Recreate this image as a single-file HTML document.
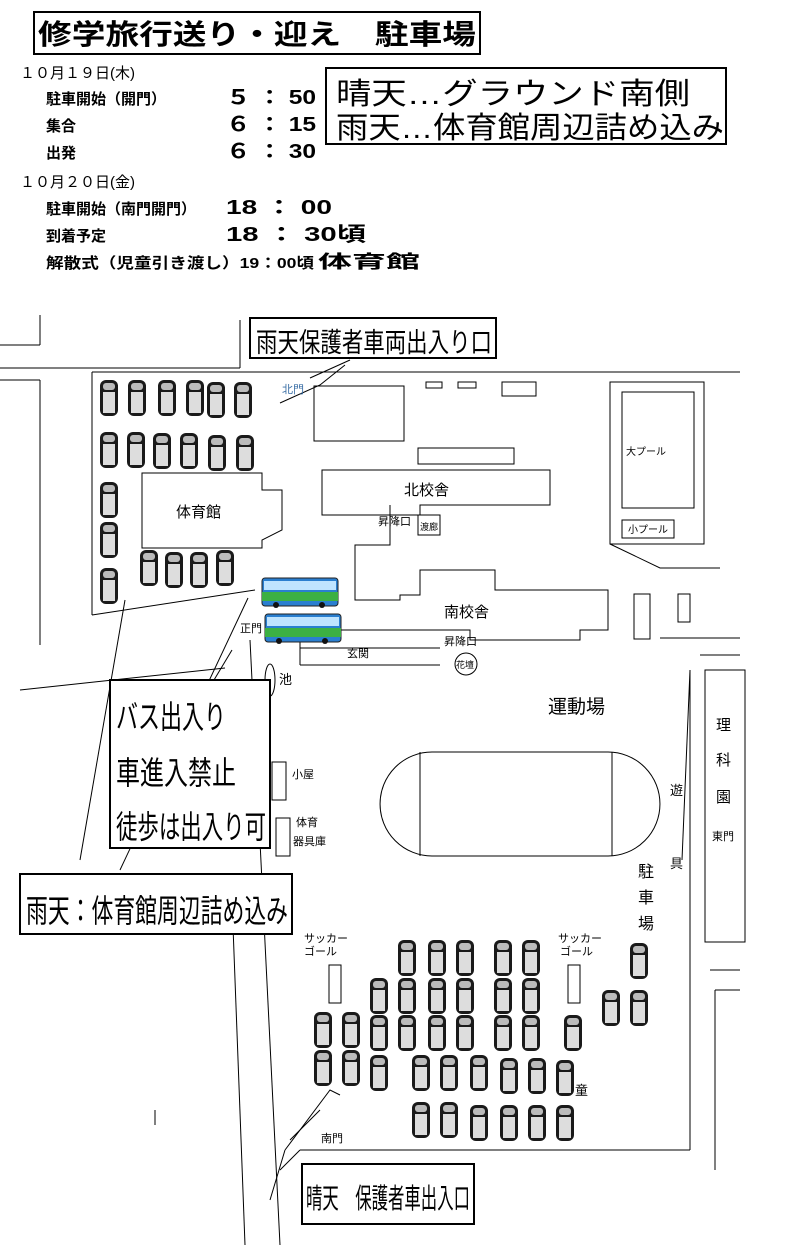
<!DOCTYPE html>
<html><head><meta charset="utf-8"><style>
body{margin:0;background:#fff}
svg{display:block}
text{font-family:"Liberation Sans","Noto Sans CJK JP",sans-serif}
</style></head><body>
<svg width="792" height="1250" viewBox="0 0 792 1250" xmlns="http://www.w3.org/2000/svg">
<defs>
<g id="car"><rect x="0" y="0" width="18" height="36" rx="6" fill="#1a1a1a"/><rect x="3" y="12" width="12" height="21" fill="#ddd"/><rect x="3" y="3" width="12" height="7" rx="3" fill="#bbb"/></g>
<g id="bus"><rect x="0" y="0" width="76" height="28" rx="3" fill="#2a7fd0" stroke="#222"/><rect x="2" y="3" width="72" height="9" fill="#bfe4ff"/><rect x="0" y="14" width="76" height="9" fill="#3cb043"/><circle cx="14" cy="27" r="3" fill="#111"/><circle cx="60" cy="27" r="3" fill="#111"/></g>
</defs>
<g fill="none" stroke="#000" stroke-width="2">
<rect x="34" y="12" width="446" height="42"/>
<rect x="326" y="68" width="400" height="76"/>
</g>
<text x="38" y="44" font-size="28" font-weight="bold" textLength="438" lengthAdjust="spacingAndGlyphs">修学旅行送り・迎え　駐車場</text>
<text x="336" y="104" font-size="30" textLength="354" lengthAdjust="spacingAndGlyphs">晴天…グラウンド南側</text>
<text x="336" y="138" font-size="30" textLength="388" lengthAdjust="spacingAndGlyphs">雨天…体育館周辺詰め込み</text>
<g font-size="15" font-weight="bold">
<text x="20" y="78" font-weight="normal">１０月１９日(木)</text>
<text x="46" y="104">駐車開始（開門）</text><text x="226" y="104" font-size="20" textLength="90" lengthAdjust="spacingAndGlyphs">５ ： 50</text>
<text x="46" y="131">集合</text><text x="226" y="131" font-size="20" textLength="90" lengthAdjust="spacingAndGlyphs">６ ： 15</text>
<text x="46" y="158">出発</text><text x="226" y="158" font-size="20" textLength="90" lengthAdjust="spacingAndGlyphs">６ ： 30</text>
<text x="20" y="187" font-weight="normal">１０月２０日(金)</text>
<text x="46" y="214">駐車開始（南門開門）</text><text x="226" y="214" font-size="20" textLength="106" lengthAdjust="spacingAndGlyphs">18 ： 00</text>
<text x="46" y="241">到着予定</text><text x="226" y="241" font-size="20" textLength="140" lengthAdjust="spacingAndGlyphs">18 ： 30頃</text>
<text x="46" y="268" textLength="268" lengthAdjust="spacingAndGlyphs">解散式（児童引き渡し）19：00頃</text><text x="318" y="268" font-size="18" textLength="102" lengthAdjust="spacingAndGlyphs">体育館</text>
</g>
<g fill="none" stroke="#000" stroke-width="1">
<line x1="40" y1="315" x2="40" y2="345"/><line x1="0" y1="345" x2="40" y2="345"/>
<line x1="0" y1="368" x2="240" y2="368"/><line x1="40" y1="380" x2="40" y2="645"/><line x1="0" y1="380" x2="40" y2="380"/>
<line x1="240" y1="368" x2="240" y2="320"/>
<line x1="92" y1="372" x2="740" y2="372"/>
<line x1="92" y1="372" x2="92" y2="615"/>
<line x1="92" y1="615" x2="255" y2="590"/>
<line x1="700" y1="655" x2="740" y2="655"/>
<line x1="690" y1="670" x2="690" y2="1150"/>
<line x1="300" y1="1150" x2="690" y2="1150"/>
<line x1="300" y1="1150" x2="280" y2="1170"/>
<line x1="715" y1="990" x2="715" y2="1170"/><line x1="715" y1="990" x2="740" y2="990"/>
<rect x="705" y="670" width="40" height="272"/>
<line x1="710" y1="970" x2="740" y2="970"/>
<rect x="314" y="386" width="90" height="55"/>
<rect x="426" y="382" width="16" height="6"/><rect x="458" y="382" width="18" height="6"/><rect x="502" y="382" width="34" height="14"/>
<rect x="418" y="448" width="96" height="16"/>
<rect x="610" y="382" width="94" height="162"/><rect x="622" y="392" width="72" height="116"/><rect x="622" y="520" width="52" height="18"/>
<polyline points="610,544 660,568 720,568"/>
<polygon points="142,473 262,473 262,490 282,490 282,530 262,540 262,548 142,548"/>
<polygon points="322,470 550,470 550,505 420,505 420,515 322,515"/>
<polyline points="390,505 390,545 355,545 355,600 400,600 400,595 420,595 420,570 495,570 495,590 608,590 608,630 580,630 580,640 470,640 470,630 340,630"/>
<rect x="418" y="515" width="22" height="20"/>
<rect x="634" y="594" width="16" height="45"/><rect x="678" y="594" width="12" height="28"/>
<line x1="660" y1="638" x2="740" y2="638"/>
<line x1="300" y1="648" x2="440" y2="648"/><line x1="300" y1="640" x2="300" y2="665"/><line x1="300" y1="665" x2="440" y2="665"/>
<circle cx="466" cy="664" r="11"/>
<ellipse cx="270" cy="680" rx="5" ry="16"/>
<rect x="272" y="762" width="14" height="38"/><rect x="276" y="818" width="14" height="38"/>
<path d="M432 752 H608 A52 52 0 0 1 608 856 H432 A52 52 0 0 1 432 752 Z"/>
<line x1="420" y1="752" x2="420" y2="856"/><line x1="612" y1="752" x2="612" y2="856"/>
<rect x="329" y="965" width="12" height="38"/><rect x="568" y="965" width="12" height="38"/>
<line x1="690" y1="670" x2="682" y2="860"/>
<line x1="20" y1="690" x2="225" y2="668"/>
<line x1="80" y1="860" x2="125" y2="600"/>
<line x1="120" y1="870" x2="248" y2="598"/>
<line x1="232" y1="900" x2="245" y2="1245"/><line x1="250" y1="640" x2="280" y2="1245"/>
<line x1="155" y1="1110" x2="155" y2="1125"/>
<line x1="270" y1="1200" x2="285" y2="1150"/>
<polyline points="285,1150 330,1090 340,1095"/><polyline points="290,1140 320,1110"/>
<polyline points="280,403 320,385 345,365"/><polyline points="310,378 350,360"/>
<line x1="208" y1="690" x2="232" y2="650"/>
</g>
<g stroke="#000" stroke-width="2" fill="#fff">
<rect x="250" y="318" width="246" height="40"/>
<rect x="110" y="680" width="160" height="168"/>
<rect x="20" y="874" width="272" height="60"/>
<rect x="302" y="1164" width="172" height="60"/>
</g>
<text x="256" y="352" font-size="27" textLength="236" lengthAdjust="spacingAndGlyphs">雨天保護者車両出入り口</text>
<g font-size="32"><text x="116" y="728" textLength="110" lengthAdjust="spacingAndGlyphs">バス出入り</text><text x="116" y="784" textLength="120" lengthAdjust="spacingAndGlyphs">車進入禁止</text><text x="116" y="838" textLength="150" lengthAdjust="spacingAndGlyphs">徒歩は出入り可</text></g>
<text x="26" y="922" font-size="32" textLength="262" lengthAdjust="spacingAndGlyphs">雨天：体育館周辺詰め込み</text>
<text x="306" y="1208" font-size="28" textLength="164" lengthAdjust="spacingAndGlyphs">晴天　保護者車出入口</text>
<g font-size="11">
<text x="282" y="393" fill="#3a6ea5">北門</text>
<text x="240" y="632">正門</text>
<text x="347" y="657">玄関</text>
<text x="378" y="525">昇降口</text><text x="420" y="530" font-size="9">渡廊</text>
<text x="444" y="645">昇降口</text><text x="456" y="668" font-size="9">花壇</text>
<text x="626" y="455" font-size="10">大プール</text><text x="628" y="533" font-size="10">小プール</text>
<text x="292" y="778">小屋</text><text x="296" y="826">体育</text><text x="293" y="845">器具庫</text>
<text x="304" y="942">サッカー</text><text x="304" y="955">ゴール</text>
<text x="558" y="942">サッカー</text><text x="560" y="955">ゴール</text>
<text x="321" y="1142">南門</text>
<text x="712" y="840">東門</text>
</g>
<text x="176" y="517" font-size="15">体育館</text>
<text x="404" y="495" font-size="15">北校舎</text>
<text x="444" y="617" font-size="15">南校舎</text>
<text x="279" y="684" font-size="13">池</text>
<text x="548" y="713" font-size="19">運動場</text>
<g font-size="15"><text x="716" y="730">理</text><text x="716" y="765">科</text><text x="716" y="802">園</text></g>
<g font-size="13"><text x="670" y="795">遊</text><text x="670" y="868">具</text></g>
<g font-size="16"><text x="638" y="877">駐</text><text x="638" y="903">車</text><text x="638" y="929">場</text></g>
<text x="575" y="1095" font-size="13">童</text>
<use href="#bus" x="262" y="578"/><use href="#bus" x="265" y="614"/>
<g>
<use href="#car" x="100" y="380"/><use href="#car" x="128" y="380"/><use href="#car" x="158" y="380"/><use href="#car" x="186" y="380"/><use href="#car" x="207" y="382"/><use href="#car" x="234" y="382"/>
<use href="#car" x="100" y="432"/><use href="#car" x="127" y="432"/><use href="#car" x="153" y="433"/><use href="#car" x="180" y="433"/><use href="#car" x="208" y="435"/><use href="#car" x="236" y="435"/>
<use href="#car" x="100" y="482"/><use href="#car" x="100" y="522"/><use href="#car" x="100" y="568"/>
<use href="#car" x="140" y="550"/><use href="#car" x="165" y="552"/><use href="#car" x="190" y="552"/><use href="#car" x="216" y="550"/>
<use href="#car" x="398" y="940"/><use href="#car" x="428" y="940"/><use href="#car" x="456" y="940"/><use href="#car" x="494" y="940"/><use href="#car" x="522" y="940"/><use href="#car" x="630" y="943"/>
<use href="#car" x="370" y="978"/><use href="#car" x="398" y="978"/><use href="#car" x="428" y="978"/><use href="#car" x="456" y="978"/><use href="#car" x="494" y="978"/><use href="#car" x="522" y="978"/><use href="#car" x="602" y="990"/><use href="#car" x="630" y="990"/>
<use href="#car" x="314" y="1012"/><use href="#car" x="342" y="1012"/><use href="#car" x="370" y="1015"/><use href="#car" x="398" y="1015"/><use href="#car" x="428" y="1015"/><use href="#car" x="456" y="1015"/><use href="#car" x="494" y="1015"/><use href="#car" x="522" y="1015"/><use href="#car" x="564" y="1015"/>
<use href="#car" x="314" y="1050"/><use href="#car" x="342" y="1050"/><use href="#car" x="370" y="1055"/><use href="#car" x="412" y="1055"/><use href="#car" x="440" y="1055"/><use href="#car" x="470" y="1055"/><use href="#car" x="500" y="1058"/><use href="#car" x="528" y="1058"/><use href="#car" x="556" y="1060"/>
<use href="#car" x="412" y="1102"/><use href="#car" x="440" y="1102"/><use href="#car" x="470" y="1105"/><use href="#car" x="500" y="1105"/><use href="#car" x="528" y="1105"/><use href="#car" x="556" y="1105"/>
</g>
</svg>
</body></html>
